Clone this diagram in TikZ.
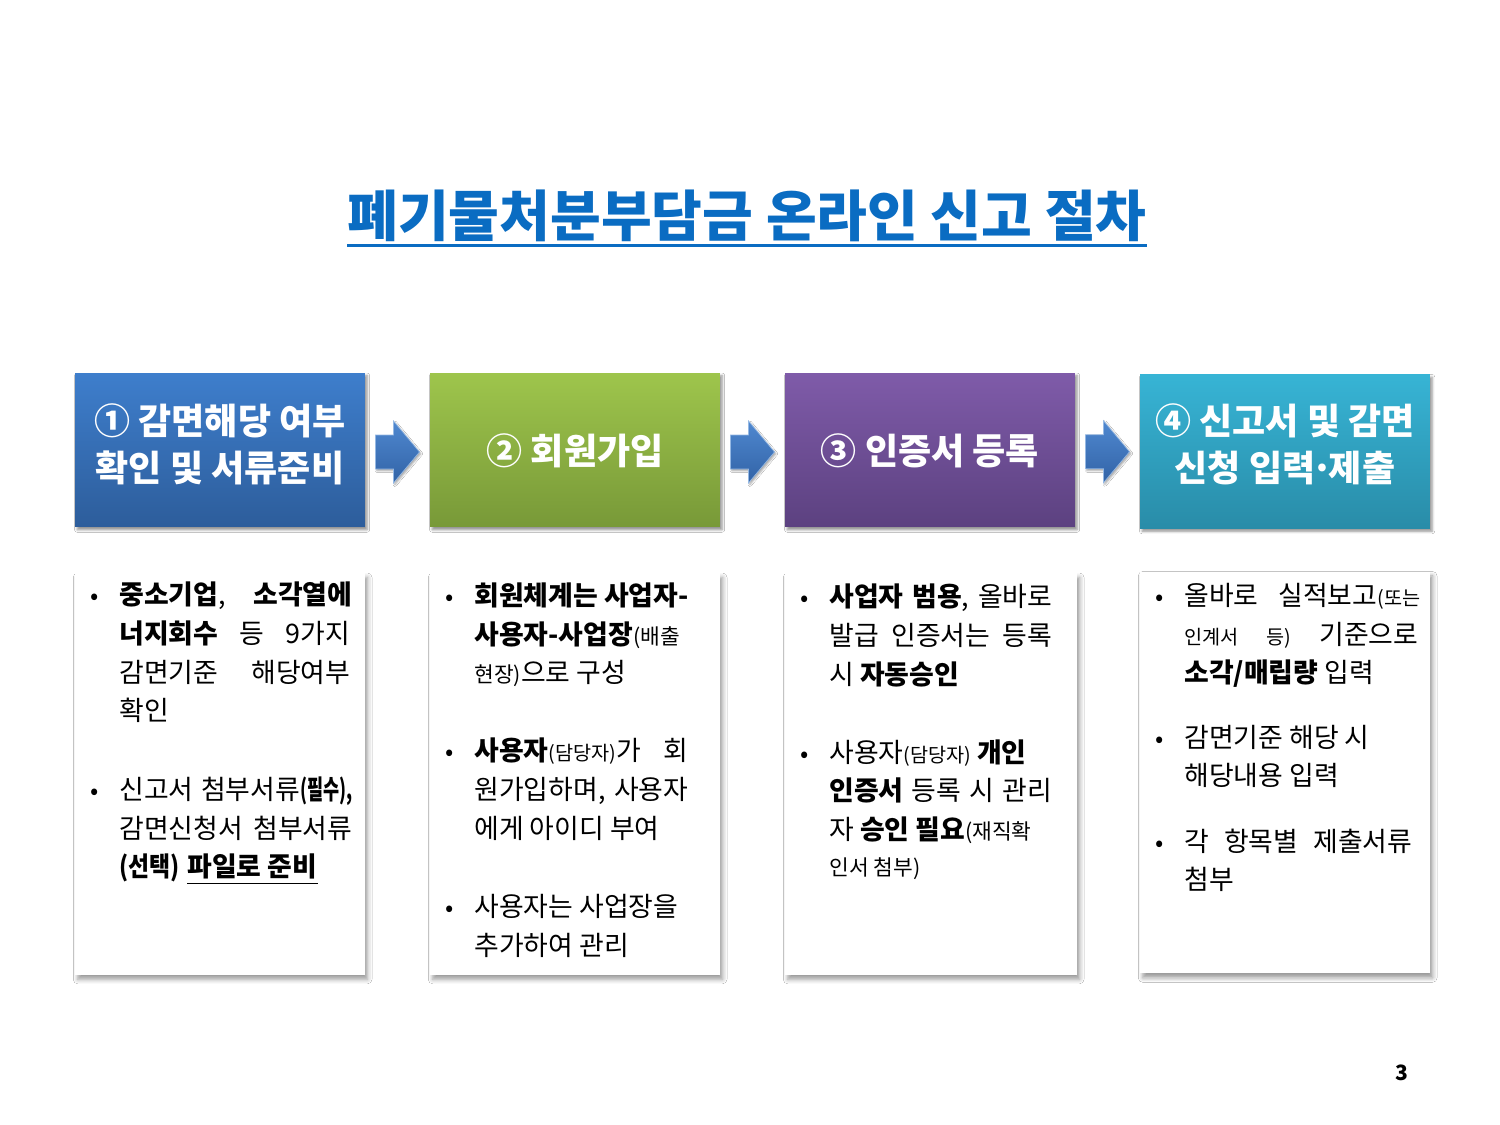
\documentclass[tikz,border=0pt]{standalone}
\usepackage{fontspec}
\usepackage{graphicx}
\setmainfont{Noto Sans CJK KR}
\usetikzlibrary{shadows.blur,calc}
\definecolor{titleblue}{HTML}{0A6CC2}
\definecolor{b1top}{HTML}{3E7ECC}
\definecolor{b1bot}{HTML}{2D5D9B}
\definecolor{b2top}{HTML}{9EC54C}
\definecolor{b2bot}{HTML}{789938}
\definecolor{b3top}{HTML}{7F5BA9}
\definecolor{b3bot}{HTML}{5C4180}
\definecolor{b4top}{HTML}{37B4D5}
\definecolor{b4bot}{HTML}{298CA8}
\definecolor{arrtop}{HTML}{4F88D0}
\definecolor{arrbot}{HTML}{3263A6}
\newcommand\jl[2]{\hbox to #1{#2}}
\newcommand\sm[1]{{\fontsize{11.2}{12}\selectfont #1}}
\newcommand\smm[1]{{\fontsize{12.2}{13}\selectfont #1}}
\begin{document}
\begin{tikzpicture}[x=0.02cm,y=-0.02cm,
  head/.style={rectangle, minimum width=5.8cm, minimum height=3.08cm, inner sep=0,
    blur shadow={shadow xshift=1.2pt, shadow yshift=-1.5pt, shadow blur radius=1.5pt, shadow opacity=45}},
  htext/.style={inner sep=0, text=white, align=center, font=\fontsize{20.5}{26.7}\selectfont\bfseries},
  panel/.style={rectangle, fill=white, minimum width=5.8cm, minimum height=8.04cm, inner sep=0,
    blur shadow={shadow xshift=1.5pt, shadow yshift=-2.5pt, shadow blur radius=2.5pt, shadow opacity=40}},
  ln/.style={anchor=base west, inner sep=0, font=\fontsize{15.3}{18}\selectfont},
  bul/.style={anchor=base, inner sep=0, font=\fontsize{13.9}{16}\selectfont},
  flow/.style={top color=arrtop, bottom color=arrbot, draw=arrtop!60!white, line width=0.4pt,
    blur shadow={shadow xshift=0.8pt, shadow yshift=-1pt, shadow blur radius=1pt, shadow opacity=35}}]
\useasboundingbox[fill=white] (0,0) rectangle (1500,1125);

% title
\node[inner sep=0, anchor=base, text=titleblue, font=\fontsize{31.4}{34}\selectfont\bfseries]
  (title) at (747,236) {폐기물처분부담금 온라인 신고 절차};
\draw[titleblue, line width=1.7pt] ([yshift=-5.5pt]title.base west) -- ([yshift=-5.5pt]title.base east);

% header boxes
\node[head, top color=b1top, bottom color=b1bot] (h1) at (220,450) {};
\node[head, top color=b2top, bottom color=b2bot] (h2) at (575,450) {};
\node[head, top color=b3top, bottom color=b3bot] (h3) at (930,450) {};
\node[head, top color=b4top, bottom color=b4bot] (h4) at (1285,451.5) {};
\node[htext] (h1t) at ($(h1.center)+(0,-6)$) {① 감면해당 여부\\확인 및 서류준비};
\node[htext] (h2t) at ($(h2.center)+(0,1)$) {② 회원가입};
\node[htext] (h3t) at ($(h3.center)+(0,1)$) {③ 인증서 등록};
\node[htext] (h4t) at ($(h4.center)+(0,-7)$) {④ 신고서 및 감면\\신청 입력\kern-0.12em·\kern-0.12em제출};

% arrows between header boxes
\coordinate (m1) at ($(h1.east)!0.5!(h2.west)+(0,2)$);
\coordinate (m2) at ($(h2.east)!0.5!(h3.west)+(0,2)$);
\coordinate (m3) at ($(h3.east)!0.5!(h4.west)+(0,1)$);
\foreach \m in {m1,m2,m3}{
  \path[flow] ($(\m)+(-22,-17)$) -- ($(\m)+(-4,-17)$) -- ($(\m)+(-4,-31)$) -- ($(\m)+(22,0)$)
    -- ($(\m)+(-4,31)$) -- ($(\m)+(-4,17)$) -- ($(\m)+(-22,17)$) -- cycle;
}

% panels
\node[panel] (p1) at (220,774) {};
\node[panel] (p2) at (575,774) {};
\node[panel, minimum width=5.84cm] (p3) at (931,774) {};
\node[panel] (p4) at (1285,772.5) {};

% panel 1
\node[bul] (b1a) at (95,604) {•};
\node[ln] (t1a) at (119,604) {\jl{4.66cm}{{\bfseries 중소기업},\hfill{\bfseries 소각열에}}};
\node[ln] (t1b) at (119,643) {\jl{4.62cm}{{\bfseries 너지회수}\hfill 등\hfill 9가지}};
\node[ln] (t1c) at (119,682) {\jl{4.62cm}{감면기준\hfill 해당여부}};
\node[ln] (t1d) at (119,720) {확인};
\node[bul] (b1b) at (95,799) {•};
\node[ln] (t1e) at (119,799) {\jl{4.66cm}{신고서\hfill 첨부서류\scalebox{0.65}[1]{\bfseries (필수),}}};
\node[ln] (t1f) at (119,838) {\jl{4.66cm}{감면신청서\hfill 첨부서류}};
\node[ln] (t1g) at (119,876) {\scalebox{0.85}[1]{\bfseries (선택)}};
\node[ln] (t1h) at ([xshift=4pt]t1g.base east) {\bfseries 파일로 준비};
\draw[black, line width=0.6pt] ([yshift=-4pt]t1h.base west) -- ([yshift=-4pt]t1h.base east);

% panel 2
\node[bul] (b2a) at (450,605) {•};
\node[ln] (t2a) at (474,605) {\bfseries 회원체계는 사업자-};
\node[ln] (t2b) at (474,644) {{\bfseries 사용자-사업장}\smm{(배출}};
\node[ln] (t2c) at (474,682) {\smm{현장)}으로 구성};
\node[bul] (b2b) at (450,760) {•};
\node[ln] (t2d) at (474,760) {\jl{4.28cm}{{\bfseries 사용자}\sm{(담당자)}가\hfill 회}};
\node[ln] (t2e) at (474,799) {\jl{4.28cm}{원가입하며,\hfill 사용자}};
\node[ln] (t2f) at (474,838) {에게 아이디 부여};
\node[bul] (b2c) at (450,916) {•};
\node[ln] (t2g) at (474,916) {사용자는 사업장을};
\node[ln] (t2h) at (474,955) {추가하여 관리};

% panel 3
\node[bul] (b3a) at (805,606) {•};
\node[ln] (t3a) at (829,606) {\jl{4.46cm}{{\bfseries 사업자\hfill 범용},\hfill 올바로}};
\node[ln] (t3b) at (829,645) {\jl{4.46cm}{발급\hfill 인증서는\hfill 등록}};
\node[ln] (t3c) at (829,684) {시 {\bfseries 자동승인}};
\node[bul] (b3b) at (805,762) {•};
\node[ln] (t3d) at (829,762) {사용자\sm{(담당자)} {\bfseries 개인}};
\node[ln] (t3e) at (829,800) {\jl{4.46cm}{{\bfseries 인증서}\hfill 등록\hfill 시\hfill 관리}};
\node[ln] (t3f) at (829,839) {자 {\bfseries 승인 필요}\smm{(재직확}};
\node[ln] (t3g) at (829,875) {\smm{인서 첨부)}};

% panel 4
\node[bul] (b4a) at (1160,605) {•};
\node[ln] (t4a) at (1184,605) {\jl{4.72cm}{올바로\hfill 실적보고\sm{(또는}}};
\node[ln] (t4b) at (1184,644) {\jl{4.68cm}{\sm{인계서\hfill 등)}\hfill 기준으로}};
\node[ln] (t4c) at (1184,682) {{\bfseries 소각/매립량} 입력};
\node[bul] (b4b) at (1160,747) {•};
\node[ln] (t4d) at (1184,747) {감면기준 해당 시};
\node[ln] (t4e) at (1184,785) {해당내용 입력};
\node[bul] (b4c) at (1160,851) {•};
\node[ln] (t4f) at (1184,851) {\jl{4.56cm}{각\hfill 항목별\hfill 제출서류}};
\node[ln] (t4g) at (1184,889) {첨부};

% page number
\node[inner sep=0, font=\fontsize{12}{14}\selectfont\bfseries] (pg) at (1402,1073) {3};
\end{tikzpicture}
\end{document}
